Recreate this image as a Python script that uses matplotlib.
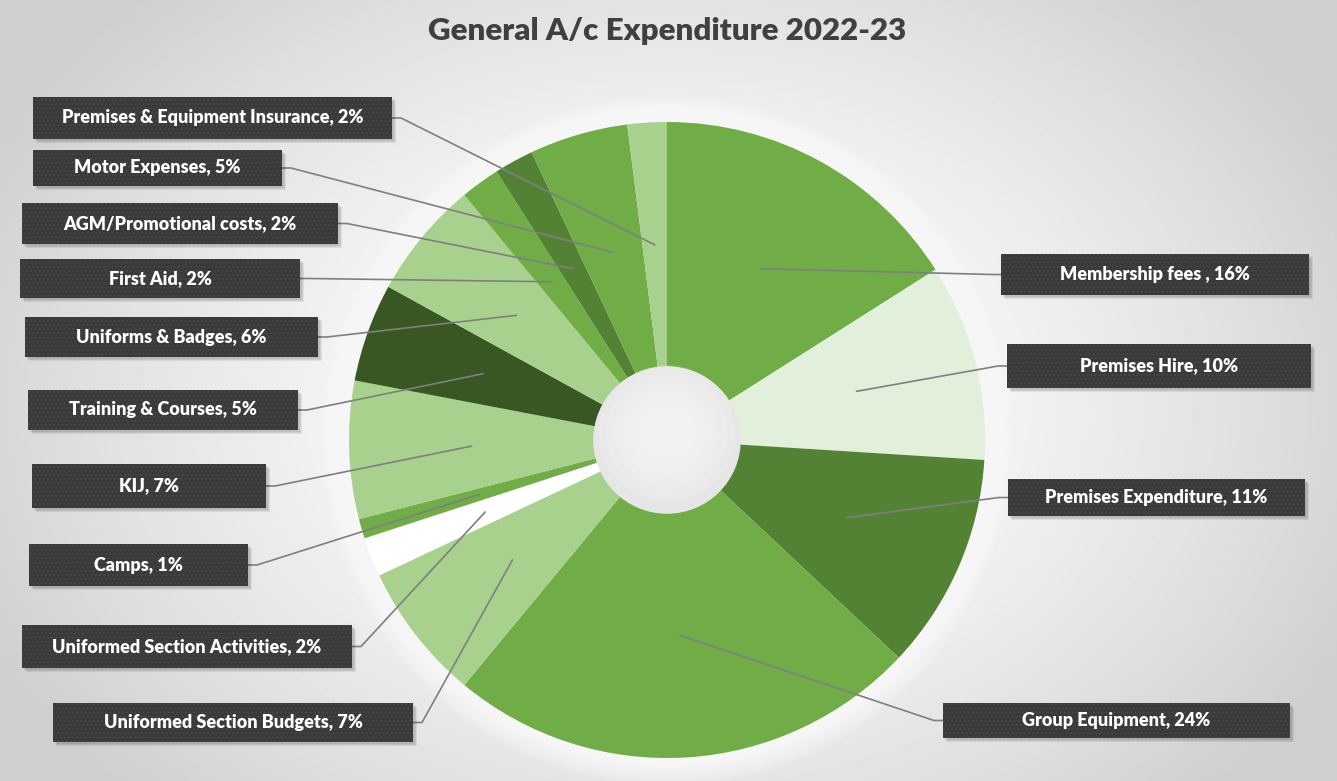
import numpy as np
import matplotlib.pyplot as plt
from matplotlib.patches import Rectangle, Circle

## Datos del grafico (porcentajes)
categorias = ['Membership fees ', 'Premises Hire', 'Premises Expenditure', 'Group Equipment',
              'Uniformed Section Budgets', 'Uniformed Section Activities', 'Camps', 'KIJ',
              'Training & Courses', 'Uniforms & Badges', 'First Aid', 'AGM/Promotional costs',
              'Motor Expenses', 'Premises & Equipment Insurance']
porcentajes = [16, 10, 11, 24, 7, 2, 1, 7, 5, 6, 2, 2, 5, 2]

colores = ['#70AD47', '#E2EFDA', '#548235', '#70AD47', '#A9D18E', '#FFFFFF', '#70AD47',
           '#A9D18E', '#385723', '#A9D18E', '#70AD47', '#548235', '#70AD47', '#A9D18E']

# Cajas de etiquetas en pixeles (izq, arriba, der, abajo)
cajas = [(1001, 254, 1309, 295), (1007, 344, 1311, 388), (1008, 479, 1305, 516),
         (943, 703, 1290, 738), (53, 703, 413, 742), (22, 625, 352, 668),
         (29, 544, 248, 586), (32, 464, 266, 508), (28, 390, 298, 430),
         (25, 317, 318, 357), (20, 259, 300, 298), (22, 203, 338, 244),
         (33, 150, 282, 186), (33, 97, 392, 139)]

W, H = 1337, 781
cx, cy, R = 667, 440, 318
fuente = 'Lato'
plt.rcParams['hatch.linewidth'] = 0.6

fig = plt.figure(figsize=(W / 100, H / 100), dpi=100)

# Fondo con degradado radial
fondo = fig.add_axes([0, 0, 1, 1])
yy, xx = np.mgrid[0:H, 0:W]
d = np.sqrt(((xx - cx) / 760.0) ** 2 + ((yy - 400) / 560.0) ** 2)
gris = 1 - 0.19 * np.clip(d, 0, 1) ** 1.6
fondo.imshow(gris, cmap='gray', vmin=0, vmax=1, extent=(0, W, H, 0), aspect='auto')
# brillo blanco alrededor del circulo
for k in range(14):
    fondo.add_patch(Circle((cx, cy), R + 28 - 2 * k, color='white', alpha=0.10, lw=0))
fondo.set_xlim(0, W)
fondo.set_ylim(H, 0)
fondo.axis('off')

# Donut
ax = fig.add_axes([(cx - R) / W, (H - cy - R) / H, 2 * R / W, 2 * R / H])
ax.pie(porcentajes, colors=colores, startangle=90, counterclock=False, radius=1,
       wedgeprops=dict(width=0.77, linewidth=0))
ax.add_patch(Circle((0, 0), 0.232, color='#e6e6e6', lw=0))
for k in range(6):
    ax.add_patch(Circle((0, 0.02), 0.215 - 0.025 * k, color='white', alpha=0.12, lw=0))
ax.set_xlim(-1, 1)
ax.set_ylim(-1, 1)
ax.axis('off')

# Capa de etiquetas en pixeles
et = fig.add_axes([0, 0, 1, 1])
et.set_xlim(0, W)
et.set_ylim(H, 0)
et.axis('off')
et.patch.set_alpha(0)

inicio = 90.0
for nombre, valor, caja in zip(categorias, porcentajes, cajas):
    medio = np.radians(inicio - 360 * valor / 200)
    inicio = inicio - 360 * valor / 100
    px = cx + 0.615 * R * np.cos(medio)
    py = cy - 0.615 * R * np.sin(medio)
    x0, y0, x1, y1 = caja
    ym = (y0 + y1) / 2
    if px > x1:
        xs = [x1, x1 + 9, px]
    else:
        xs = [x0, x0 - 9, px]
    et.plot(xs, [ym, ym, py], color='#7f7f7f', lw=1.2, solid_capstyle='round', zorder=2)
    # sombra
    for s in range(3):
        et.add_patch(Rectangle((x0 + 2 + s, y0 + 2 + s), x1 - x0, y1 - y0,
                               color='black', alpha=0.07, lw=0, zorder=3))
    et.add_patch(Rectangle((x0, y0), x1 - x0, y1 - y0, facecolor='#3a3a3a',
                           edgecolor='#4c4c4c', hatch='....', lw=0, zorder=4))
    et.text((x0 + x1) / 2, ym, '{}, {}%'.format(nombre, valor), color='white',
            fontsize=13, fontweight='heavy', family=fuente, ha='center', va='center', zorder=5)

et.text(667, 31, 'General A/c Expenditure 2022-23', color='#404040', fontsize=22.5,
        fontweight='heavy', family=fuente, ha='center', va='center')

fig.savefig('out.png', dpi=100)
